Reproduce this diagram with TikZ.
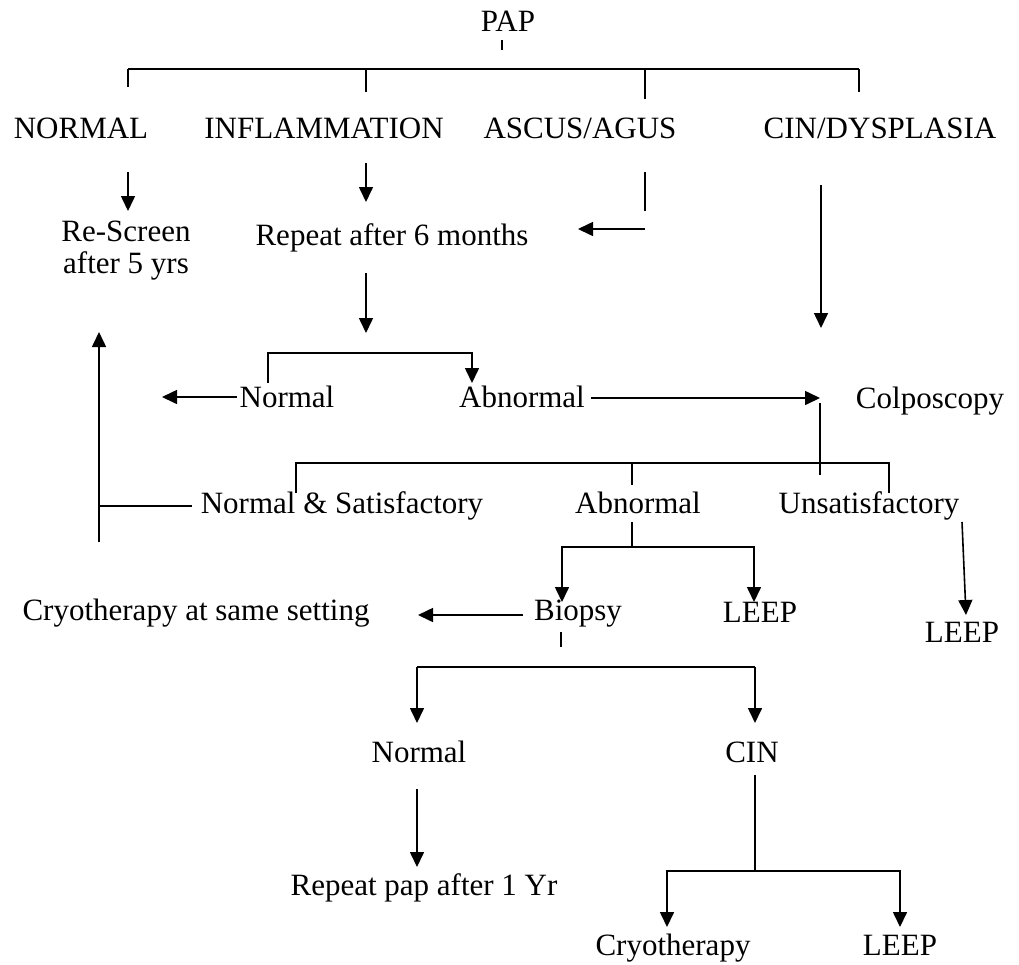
\documentclass[tikz,border=0pt]{standalone}
\usepackage{fontspec}
\setmainfont{Liberation Serif}
\usetikzlibrary{arrows.meta}

\begin{document}
\begin{tikzpicture}[
    x=1pt, y=-1pt,
    lbl/.style={anchor=base, inner sep=0pt, font=\fontsize{31}{32}\selectfont},
    line/.style={line width=1.6pt, draw=black},
    arrow/.style={line, -{Triangle[length=15pt, width=14pt]}}
]
\useasboundingbox (0,0) rectangle (1019,964);

% 1. Pap smear and its results
\node[lbl] (pap) at (508,31) {PAP};
\node[lbl] (normal) at (81,138) {NORMAL};
\node[lbl] (inflam) at (324,138) {INFLAMMATION};
\node[lbl] (ascus) at (580,138) {ASCUS/AGUS};
\node[lbl] (cindys) at (880,138) {CIN/DYSPLASIA};

% 2. Follow-up
\node[lbl, align=center] (rescreen) at (126,273) {Re-Screen\\after 5 yrs};
\node[lbl] (repeat) at (392,245) {Repeat after 6 months};
\node[lbl] (rnormal) at (287,407) {Normal};
\node[lbl] (rabnormal) at (522,407) {Abnormal};
\node[lbl] (colpo) at (930,408) {Colposcopy};

% 3. Colposcopy results
\node[lbl] (csat) at (342,513) {Normal \& Satisfactory};
\node[lbl] (cabnormal) at (638,513) {Abnormal};
\node[lbl] (cunsat) at (869,513) {Unsatisfactory};
\node[lbl] (cryosame) at (196,620) {Cryotherapy at same setting};
\node[lbl] (biopsy) at (578,620) {Biopsy};
\node[lbl] (aleep) at (760,622) {LEEP};
\node[lbl] (uleep) at (962,642) {LEEP};

% 4. Biopsy results
\node[lbl] (bnormal) at (419,762) {Normal};
\node[lbl] (bcin) at (752,762) {CIN};
\node[lbl] (repeatpap) at (424,895) {Repeat pap after 1 Yr};
\node[lbl] (cryo) at (673,955) {Cryotherapy};
\node[lbl] (cleep) at (900,955) {LEEP};

% 5. Junction points
\coordinate (papa) at (502,40);  \coordinate (papb) at (502,50);
\coordinate (bar1l) at (128,69); \coordinate (bar1r) at (859,69);
\coordinate (d1) at (128,87);    \coordinate (d2) at (366,92);
\coordinate (d3) at (645,99);    \coordinate (d4) at (859,92);
\coordinate (na) at (128,172);   \coordinate (nb) at (128,211);
\coordinate (ia) at (366,163);   \coordinate (ib) at (366,202);
\coordinate (aa) at (645,172);   \coordinate (ab) at (645,211);
\coordinate (ac) at (645,229);   \coordinate (ad) at (578,229);
\coordinate (ca) at (821,185);   \coordinate (cb) at (821,328);
\coordinate (ra) at (366,273);   \coordinate (rb) at (366,333);
\coordinate (bar2l) at (268,353); \coordinate (bar2r) at (472,353);
\coordinate (rl) at (268,383);   \coordinate (rr) at (472,383);
\coordinate (nl) at (237,397);   \coordinate (nle) at (162,397);
\coordinate (abr) at (591,398);  \coordinate (abe) at (820,398);
\coordinate (va) at (820,403);   \coordinate (vb) at (820,475);
\coordinate (bar3l) at (296,463); \coordinate (bar3m) at (632,463); \coordinate (bar3r) at (889,463);
\coordinate (e1) at (296,493);   \coordinate (e2) at (632,485);   \coordinate (e3) at (889,493);
\coordinate (upa) at (99,542);   \coordinate (upb) at (99,332);
\coordinate (upm) at (99,506);   \coordinate (sl) at (192,506);
\coordinate (ma) at (632,522);   \coordinate (mb) at (632,547);
\coordinate (bar4l) at (562,547); \coordinate (bar4r) at (754,547);
\coordinate (ml) at (562,602);   \coordinate (mr) at (754,602);
\coordinate (ua) at (962,522);   \coordinate (ub) at (966,615);
\coordinate (ba) at (523,615);   \coordinate (bb) at (418,615);
\coordinate (ta) at (561,632);   \coordinate (tb) at (561,647);
\coordinate (bar5l) at (417,667); \coordinate (bar5r) at (755,667);
\coordinate (bl) at (417,723);   \coordinate (br) at (755,723);
\coordinate (pa) at (417,789);   \coordinate (pb) at (417,867);
\coordinate (ka) at (755,775);   \coordinate (kb) at (755,871);
\coordinate (bar6l) at (667,871); \coordinate (bar6r) at (900,871);
\coordinate (kl) at (667,927);   \coordinate (kr) at (900,927);

% 6. Connections
\draw[line] (papa) -- (papb);
\draw[line] (bar1l) -- (bar1r);
\draw[line] (bar1l) -- (d1);
\draw[line] (d2 |- bar1l) -- (d2);
\draw[line] (d3 |- bar1l) -- (d3);
\draw[line] (bar1r) -- (d4);

\draw[arrow] (na) -- (nb);
\draw[arrow] (ia) -- (ib);
\draw[line] (aa) -- (ab);
\draw[arrow] (ac) -- (ad);
\draw[arrow] (ca) -- (cb);

\draw[arrow] (ra) -- (rb);
\draw[arrow] (rl) |- (bar2l) -- (bar2r) -- (rr);
\draw[arrow] (nl) -- (nle);
\draw[arrow] (abr) -- (abe);

\draw[line] (va) -- (vb);
\draw[line] (e1) -- (bar3l) -- (bar3r) -- (e3);
\draw[line] (bar3m) -- (e2);
\draw[arrow] (upa) -- (upb);
\draw[line] (sl) -- (upm);

\draw[line] (ma) -- (mb);
\draw[arrow] (mb) -| (ml);
\draw[arrow] (mb) -| (mr);
\draw[arrow] (ua) -- (ub);
\draw[arrow] (ba) -- (bb);
\draw[line] (ta) -- (tb);

\draw[arrow] (bar5l) -- (bl);
\draw[arrow] (bar5r) -- (br);
\draw[line] (bar5l) -- (bar5r);
\draw[arrow] (pa) -- (pb);
\draw[line] (ka) -- (kb);
\draw[arrow] (kb) -| (kl);
\draw[arrow] (kb) -| (kr);

\end{tikzpicture}
\end{document}
